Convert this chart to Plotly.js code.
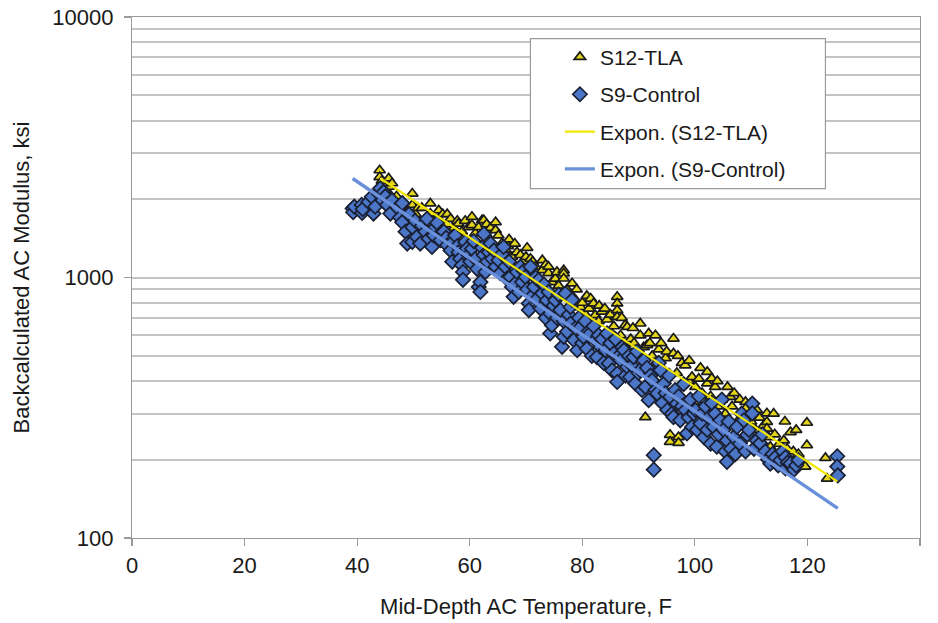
<!DOCTYPE html>
<html>
<head>
<meta charset="utf-8">
<script src="https://cdn.plot.ly/plotly-3.0.1.min.js"></script>
<style>html,body{margin:0;padding:0;background:#fff;}#chart{width:938px;height:623px;}</style>
</head>
<body>
<div id="chart"></div>
<script>
// S12-TLA: [mid-depth AC temperature (F), backcalculated AC modulus (ksi)]
const s12Points = [
[44.0,2580],[44.0,2430],[44.0,2230],[44.4,2350],[45.0,2150],[45.6,2400],[45.6,2230],[45.9,2070],[46.2,2300],[47.0,2050],
[48.2,1950],[49.0,1800],[49.8,2100],[49.8,1900],[50.4,1750],[50.8,1850],[51.5,1850],[52.4,1700],[53.0,1925],[53.0,1760],
[53.6,1650],[54.5,1810],[54.5,1680],[55.2,1750],[55.8,1600],[56.0,1750],[56.6,1680],[57.2,1550],[57.8,1650],[58.0,1610],
[58.6,1500],[59.2,1650],[59.8,1560],[60.4,1710],[60.4,1590],[61.0,1480],[61.6,1560],[62.2,1660],[62.5,1660],[63.0,1600],
[63.1,1450],[63.7,1550],[64.6,1630],[64.6,1520],[65.1,1450],[65.7,1350],[66.3,1280],[66.8,1320],[67.0,1400],[67.5,1200],
[68.0,1350],[68.4,1250],[69.0,1220],[69.6,1150],[70.0,1200],[70.2,1300],[70.8,1180],[71.2,1150],[71.7,1100],[72.2,1005],
[72.9,1165],[72.9,1067],[73.5,1120],[74.0,1040],[74.0,1100],[74.6,960],[75.2,990],[75.5,1050],[75.8,930],[76.7,1067],
[76.7,1036],[76.7,991],[77.3,900],[78.0,860],[78.2,950],[78.8,820],[79.0,900],[79.7,770],[80.0,800],[80.6,720],
[80.8,850],[81.2,760],[81.5,830],[82.0,795],[82.3,717],[82.9,680],[83.0,780],[83.5,740],[84.0,760],[84.4,690],
[85.0,620],[85.0,720],[85.6,650],[86.2,843],[86.2,795],[86.2,749],[86.2,706],[86.8,600],[87.0,700],[87.6,656],
[88.0,646],[88.0,533],[88.6,580],[89.0,640],[89.2,560],[89.7,520],[90.3,666],[90.3,600],[90.9,540],[91.2,291],
[91.5,550],[91.8,610],[92.0,560],[92.4,500],[93.0,470],[93.0,600],[93.6,530],[94.0,560],[94.2,450],[94.8,490],
[95.0,520],[95.6,318],[95.6,249],[95.6,234],[96.2,583],[96.2,511],[96.8,430],[97.0,500],[97.1,244],[97.1,232],
[97.7,470],[98.3,460],[98.9,400],[99.0,480],[99.5,415],[100.1,380],[100.4,333],[100.7,409],[101.0,450],[101.3,360],
[102.2,434],[102.2,392],[102.8,350],[103.0,410],[103.6,380],[104.0,400],[104.2,320],[104.8,340],[105.4,300],[105.8,380],
[106.3,348],[106.6,320],[107.0,360],[107.5,275],[108.0,340],[108.1,290],[108.7,301],[109.0,333],[109.0,314],[110.0,280],
[110.8,260],[111.0,310],[111.5,290],[112.2,270],[112.8,301],[112.8,279],[112.8,263],[113.1,244],[113.4,224],[114.0,300],
[114.2,250],[115.0,230],[115.8,237],[116.0,280],[116.4,220],[117.0,255],[117.5,215],[118.0,260],[118.4,210],[119.6,188],
[119.9,277],[119.9,227],[123.2,203],[123.5,169]
];

// S9-Control: [mid-depth AC temperature (F), backcalculated AC modulus (ksi)]
const s9Points = [
[39.2,1840],[39.3,1780],[39.5,1870],[40.8,1900],[40.9,1770],[41.0,1830],[42.0,1950],[42.6,2040],[42.9,1760],[43.2,1870],
[43.8,2100],[44.1,2200],[44.5,1980],[44.7,2130],[45.0,2050],[45.3,1900],[45.9,1760],[46.2,1980],[47.2,1850],[47.6,1700],
[48.0,1930],[48.0,1630],[48.6,1500],[48.9,1350],[49.2,1750],[49.8,1560],[49.8,1370],[50.3,1650],[50.6,1430],[51.2,1350],
[51.5,1580],[52.1,1500],[52.4,1680],[52.7,1410],[53.3,1310],[53.6,1450],[53.9,1560],[54.2,1620],[54.8,1390],[55.1,1500],
[55.4,1500],[55.8,1420],[56.0,1330],[56.6,1270],[56.9,1150],[57.1,1380],[57.4,1450],[57.8,1320],[58.0,1250],[58.3,1180],
[58.6,1115],[58.8,1050],[58.8,980],[59.2,1370],[59.5,1290],[59.8,1220],[60.1,1150],[60.4,1290],[60.7,1380],[61.0,1180],
[61.3,1080],[61.6,920],[61.9,960],[61.9,880],[62.2,1300],[62.5,1220],[62.5,1470],[62.8,1050],[63.1,1150],[63.4,1250],
[63.7,1350],[64.0,1180],[64.3,1270],[64.6,1100],[65.1,1165],[65.4,1040],[65.7,1230],[66.0,1310],[66.3,1100],[66.6,990],
[67.0,1150],[67.2,1005],[67.5,920],[67.8,843],[68.1,950],[68.4,1050],[68.7,880],[69.0,1100],[69.3,960],[69.6,1060],
[69.9,1005],[70.2,900],[70.5,795],[70.5,750],[70.8,1100],[71.1,850],[71.4,920],[71.7,1000],[72.0,830],[72.2,977],
[72.6,760],[72.9,868],[73.2,940],[73.5,700],[73.7,818],[74.0,880],[74.3,727],[74.3,610],[74.6,656],[74.9,780],
[75.2,818],[75.5,700],[75.8,860],[76.1,750],[76.4,542],[76.7,592],[76.7,680],[77.0,868],[77.3,620],[77.6,720],
[77.9,770],[77.9,666],[78.2,820],[78.5,575],[78.8,640],[79.1,526],[79.4,700],[79.7,646],[80.0,560],[80.2,592],
[80.5,680],[80.8,533],[81.1,620],[81.4,610],[81.7,500],[82.0,650],[82.3,575],[82.6,495],[82.9,600],[83.2,542],
[83.5,580],[83.8,470],[84.1,526],[84.4,610],[84.7,468],[85.0,560],[85.3,440],[85.6,511],[85.9,580],[86.2,428],
[86.2,397],[86.5,500],[86.8,481],[87.1,540],[87.4,526],[87.7,420],[88.0,454],[88.3,500],[88.5,415],[88.8,460],
[89.1,495],[89.4,392],[89.7,520],[90.0,430],[90.3,441],[90.6,370],[90.9,481],[91.2,380],[91.5,450],[91.8,338],
[92.1,420],[92.4,403],[92.7,208],[92.7,183],[93.0,370],[93.3,359],[93.6,470],[93.9,441],[94.2,330],[94.5,392],
[94.8,360],[95.1,310],[95.4,420],[95.6,348],[95.9,300],[96.2,291],[96.5,370],[96.8,328],[97.1,350],[97.4,283],
[97.7,320],[98.0,390],[98.3,310],[98.6,252],[98.9,290],[99.2,340],[99.5,267],[99.8,300],[100.1,310],[100.4,260],
[100.7,350],[101.0,275],[101.3,300],[101.6,244],[101.9,320],[102.2,260],[102.5,291],[102.8,230],[103.0,330],[103.3,267],
[103.6,300],[103.9,224],[104.2,250],[104.5,283],[104.8,340],[105.1,260],[105.4,215],[105.7,237],[105.7,196],[106.0,280],
[106.4,220],[106.9,244],[107.2,210],[107.5,267],[108.0,230],[108.3,300],[108.7,283],[109.0,215],[109.3,249],[109.6,260],
[110.2,328],[110.2,301],[110.5,220],[111.0,237],[111.6,231],[112.0,250],[112.5,215],[113.0,200],[113.4,193],[113.8,210],
[114.3,204],[114.8,190],[115.2,199],[115.6,215],[116.1,204],[116.1,185],[116.5,195],[117.0,193],[117.6,183],[118.0,190],
[118.4,199],[125.3,206],[125.3,188],[125.4,174]
];

// Exponential trend lines (end points)
const s12TrendTemp = [44.1, 125.3];
const s12TrendMod = [2404, 165];
const s9TrendTemp = [39.2, 125.4];
const s9TrendMod = [2399, 130];

const xTicks = [0, 20, 40, 60, 80, 100, 120, 140];
const yMajorTicks = [100, 1000, 10000];
const yMinorTicks = [200,300,400,500,600,700,800,900,2000,3000,4000,5000,6000,7000,8000,9000];

const FONT = 'Liberation Sans, Arial, sans-serif';

const traces = [
  {
    type: 'scatter', mode: 'markers', name: 'S12-TLA', legendgroup: 'a',
    x: s12Points.map(p => p[0]), y: s12Points.map(p => p[1]),
    marker: {symbol: 'triangle-up', size: 10, color: '#e3d41c', line: {color: '#1a1a1a', width: 1.7}}
  },
  {
    type: 'scatter', mode: 'markers', name: 'S9-Control', legendgroup: 'b',
    x: s9Points.map(p => p[0]), y: s9Points.map(p => p[1]),
    marker: {symbol: 'diamond', size: 11, color: '#4b75c6', line: {color: '#1a2033', width: 1.7}}
  },
  {
    type: 'scatter', mode: 'lines', name: 'Expon. (S12-TLA)', legendgroup: 'c',
    x: s12TrendTemp, y: s12TrendMod,
    line: {color: '#f0e600', width: 2.2}
  },
  {
    type: 'scatter', mode: 'lines', name: 'Expon. (S9-Control)', legendgroup: 'd',
    x: s9TrendTemp, y: s9TrendMod,
    line: {color: '#6a8fdb', width: 3.4}
  }
];

const layout = {
  width: 938, height: 623,
  margin: {l: 132, r: 18, t: 17, b: 85},
  paper_bgcolor: '#ffffff', plot_bgcolor: '#ffffff',
  font: {family: FONT, size: 22, color: '#1a1a1a'},
  showlegend: true,
  legend: {
    x: 0.543, y: 0.962, xanchor: 'left', yanchor: 'top',
    bgcolor: 'rgba(0,0,0,0)', borderwidth: 0,
    font: {family: FONT, size: 21, color: '#1a1a1a'},
    traceorder: 'grouped', tracegroupgap: 7
  },
  shapes: [{
    type: 'rect', xref: 'paper', yref: 'paper', layer: 'above',
    x0: 0.5056, x1: 0.880, y0: 0.6706, y1: 0.9585,
    fillcolor: '#ffffff', line: {color: '#9a9a9a', width: 1.2}
  }],
  xaxis: {
    range: [0, 140], tickvals: xTicks, ticks: 'outside', ticklen: 7, tickcolor: '#9a9a9a', tickwidth: 1.2,
    showline: true, linecolor: '#9a9a9a', linewidth: 1.2, mirror: true,
    showgrid: false, zeroline: false,
    tickfont: {family: FONT, size: 22, color: '#1a1a1a'},
    title: {text: 'Mid-Depth AC Temperature, F', font: {family: FONT, size: 22, color: '#1a1a1a'}, standoff: 22}
  },
  yaxis: {
    type: 'log', range: [2, 4], tickvals: yMajorTicks, ticktext: ['100', '1000', '10000'],
    ticks: 'outside', ticklen: 7, tickcolor: '#9a9a9a', tickwidth: 1.2, ticklabelstandoff: 6,
    showline: true, linecolor: '#9a9a9a', linewidth: 1.2, mirror: true,
    showgrid: true, gridcolor: '#c4c4c4', gridwidth: 2, zeroline: false,
    minor: {tickvals: yMinorTicks, ticks: '', showgrid: true, gridcolor: '#c4c4c4', gridwidth: 2},
    tickfont: {family: FONT, size: 22, color: '#1a1a1a'},
    title: {text: 'Backcalculated AC Modulus, ksi', font: {family: FONT, size: 22, color: '#1a1a1a'}, standoff: 16}
  }
};

Plotly.newPlot('chart', traces, layout, {displayModeBar: false, staticPlot: true});
</script>
</body>
</html>
